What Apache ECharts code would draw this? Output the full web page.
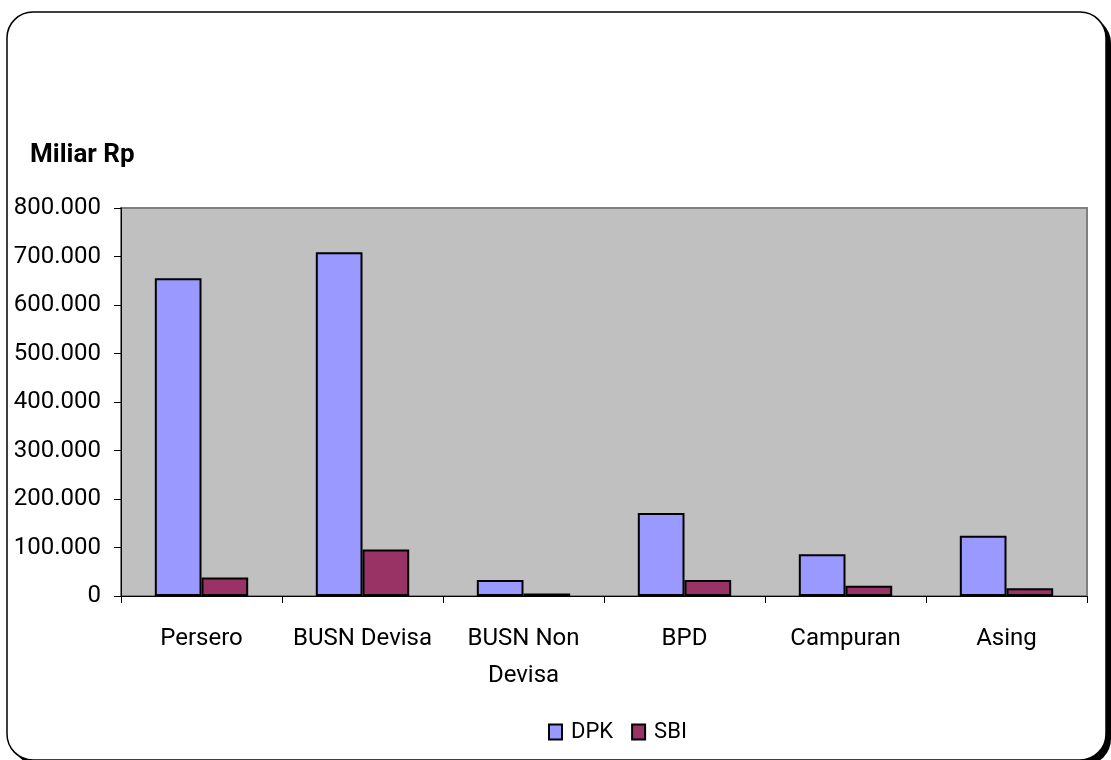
<!DOCTYPE html>
<html>
<head>
<meta charset="utf-8">
<script src="https://cdn.jsdelivr.net/npm/echarts@6/dist/echarts.min.js"></script>
<style>
  html, body { margin: 0; padding: 0; background: #fff; }
  #chart { width: 1111px; height: 760px; }
</style>
</head>
<body>
<div id="chart"></div>
<script>
// Miliar Rp per bank group
var categories = ['Persero', 'BUSN Devisa', 'BUSN Non Devisa', 'BPD', 'Campuran', 'Asing'];
var dpk = [655000, 709000, 33000, 171000, 86000, 124000];
var sbi = [38000, 96000, 5000, 33000, 21000, 16000];

var FONT = 'Roboto, "Liberation Sans", sans-serif';

var chart = echarts.init(document.getElementById('chart'));

function fmt(v) {
  return String(v).replace(/\B(?=(\d{3})+(?!\d))/g, '.');
}

var option = {
  animation: false,
  color: ['#9999FF', '#993366'],
  textStyle: { fontFamily: FONT },
  graphic: [
    {
      // drop shadow of the chart frame
      type: 'rect', z: -11,
      shape: { x: 12, y: 17, width: 1099, height: 748, r: 26 },
      style: { fill: '#000' }
    },
    {
      type: 'rect', z: -10,
      shape: { x: 7, y: 12, width: 1099, height: 748, r: 26 },
      style: { fill: '#fff', stroke: '#000', lineWidth: 1.5 }
    }
  ],
  title: {
    text: 'Miliar Rp',
    left: 25, top: 137,
    textStyle: { fontFamily: FONT, fontSize: 26, fontWeight: 'bold', color: '#000' }
  },
  legend: {
    data: ['DPK', 'SBI'],
    left: 543, top: 716,
    icon: 'rect',
    itemWidth: 13, itemHeight: 15,
    itemGap: 18,
    textStyle: { fontFamily: FONT, fontSize: 22, color: '#000', padding: [0, 0, 0, 4] }
  },
  grid: {
    left: 121, right: 24, top: 208, bottom: 164,
    outerBoundsMode: 'none',
    show: true,
    backgroundColor: '#C0C0C0',
    borderColor: '#808080',
    borderWidth: 2
  },
  xAxis: {
    type: 'category',
    data: categories,
    axisLine: { lineStyle: { color: '#000', width: 1 } },
    axisTick: { show: true, length: 7, lineStyle: { color: '#000' } },
    axisLabel: {
      color: '#000', fontSize: 24, fontFamily: FONT, margin: 24, lineHeight: 37,
      interval: 0,
      formatter: function (v) { return v === 'BUSN Non Devisa' ? 'BUSN Non\nDevisa' : v; }
    }
  },
  yAxis: {
    type: 'value',
    min: 0, max: 800000, interval: 100000,
    axisLine: { show: true, lineStyle: { color: '#000', width: 1 } },
    axisTick: { show: true, length: 7, lineStyle: { color: '#000' } },
    splitLine: { show: false },
    axisLabel: { color: '#000', fontSize: 24, fontFamily: FONT, margin: 20, formatter: fmt }
  },
  series: [
    {
      name: 'DPK', type: 'bar', data: dpk,
      barGap: '0%', barCategoryGap: '42%',
      itemStyle: { color: '#9999FF', borderColor: '#000', borderWidth: 2 }
    },
    {
      name: 'SBI', type: 'bar', data: sbi,
      barGap: '0%', barCategoryGap: '42%',
      itemStyle: { color: '#993366', borderColor: '#000', borderWidth: 2 }
    }
  ]
};

chart.setOption(option);
</script>
</body>
</html>
